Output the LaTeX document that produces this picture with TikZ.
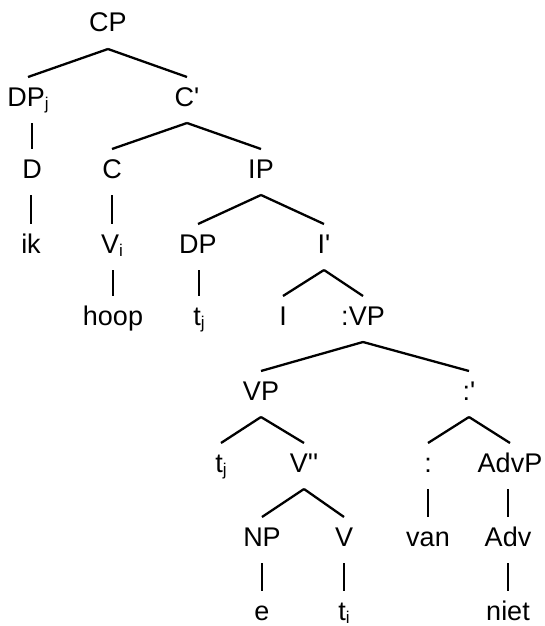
\documentclass[tikz,border=0pt]{standalone}
\usepackage{fontspec}
\setmainfont{Liberation Sans}
\usetikzlibrary{calc}
\newcommand\lowidx[1]{\raisebox{-3pt}{\fontsize{17}{17}\selectfont #1}}
\newcommand\tick{\textquotesingle}
\begin{document}
\begin{tikzpicture}[x=1pt,y=-1pt,
  lbl/.style={anchor=base,inner sep=0pt,font=\fontsize{27}{31}\selectfont},
  edge/.style={line width=2.3pt}]
\useasboundingbox (0,0) rectangle (544,626);
% row 1
\node[lbl] (cp) at (108,32) {CP};
% row 2
\node[lbl] (dpj) at (28,106) {DP\lowidx{j}};
\node[lbl] (cbar) at (187,106) {C\tick};
% row 3
\node[lbl] (d) at (32,178) {D};
\node[lbl] (c) at (112,178) {C};
\node[lbl] (ip) at (261,178) {IP};
% row 4
\node[lbl] (ik) at (31,253) {ik};
\node[lbl] (vi) at (112,253) {V\lowidx{i}};
\node[lbl] (dp) at (198,253) {DP};
\node[lbl] (ibar) at (324,253) {I\tick};
% row 5
\node[lbl] (hoop) at (113,325) {hoop};
\node[lbl] (tj) at (199,325) {t\lowidx{j}};
\node[lbl] (i) at (283,325) {I};
\node[lbl] (cvp) at (363,325) {:VP};
% row 6
\node[lbl] (vp) at (261,400) {VP};
\node[lbl] (cbar2) at (469,400) {:\tick};
% row 7
\node[lbl] (tj2) at (221,472) {t\lowidx{j}};
\node[lbl] (vbar) at (304,472) {V\tick\tick};
\node[lbl] (col) at (428,472) {:};
\node[lbl] (advp) at (510,472) {AdvP};
% row 8
\node[lbl] (np) at (262,546) {NP};
\node[lbl] (v) at (344,546) {V};
\node[lbl] (van) at (428,546) {van};
\node[lbl] (adv) at (508,546) {Adv};
% row 9
\node[lbl] (e) at (262,620) {e};
\node[lbl] (ti) at (344,620) {t\lowidx{i}};
\node[lbl] (niet) at (508,620) {niet};
% branching: from just below the mother to just above each daughter
\foreach \m/\d in {cp/dpj, cp/cbar, cbar/c, cbar/ip, ip/dp, ip/ibar,
  ibar/i, ibar/cvp, cvp/vp, cvp/cbar2, vp/tj2, vp/vbar,
  cbar2/col, cbar2/advp, vbar/np, vbar/v}
  \draw[edge] ([yshift=-17pt]\m.base) -- ([yshift=29pt]\d.base);
% non-branching: straight down, in line with the daughter
\foreach \m/\d in {dpj/d, d/ik, c/vi, vi/hoop, dp/tj, col/van,
  advp/adv, np/e, v/ti, adv/niet}
  \draw[edge] ($(\m.base -| \d.base)+(0,17)$) -- ([yshift=29pt]\d.base);
\end{tikzpicture}
\end{document}
